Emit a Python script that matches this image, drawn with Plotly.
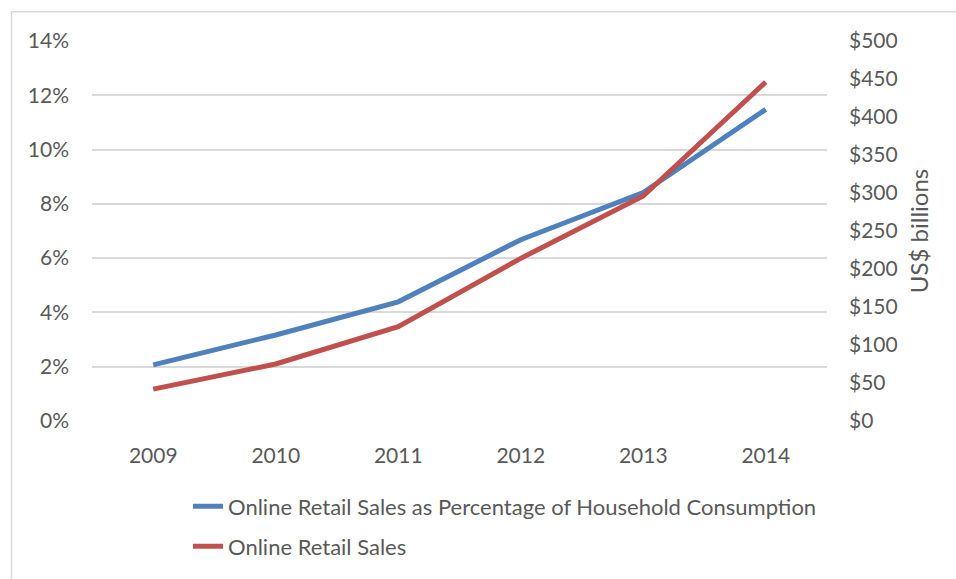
import plotly.graph_objects as go

years = ["2009", "2010", "2011", "2012", "2013", "2014"]
share_pct = [2.07, 3.17, 4.39, 6.68, 8.42, 11.48]      # % of household consumption
sales_bn = [42, 75, 124, 214, 296, 446]                 # US$ billions

BLUE = "#4F81BD"
RED = "#C0504D"
TEXT = "#595959"
GRID = "#D9D9D9"
FONT = "Lato"
FS = 21

fig = go.Figure()
fig.add_trace(go.Scatter(
    x=years, y=[v / 100 for v in share_pct], mode="lines",
    name="Online Retail Sales as Percentage of Household Consumption",
    line=dict(color=BLUE, width=5), legend="legend", yaxis="y",
    showlegend=True,
))
fig.add_trace(go.Scatter(
    x=years, y=sales_bn, mode="lines",
    name="Online Retail Sales",
    line=dict(color=RED, width=5), legend="legend2", yaxis="y2",
    showlegend=True,
))

legend_common = dict(
    font=dict(family=FONT, size=22, color=TEXT),
    bgcolor="rgba(0,0,0,0)", borderwidth=0,
    xanchor="left", yanchor="middle", itemwidth=30,
)

fig.update_layout(
    width=956, height=579,
    showlegend=True,
    margin=dict(l=92, r=129, t=41, b=156),
    paper_bgcolor="white", plot_bgcolor="white",
    font=dict(family=FONT, size=FS, color=TEXT),
    xaxis=dict(
        type="category", range=[-0.5, 5.5],
        showgrid=False, showline=False, zeroline=False,
        ticks="", ticklabelstandoff=20,
        tickfont=dict(family=FONT, size=FS, color=TEXT),
    ),
    yaxis=dict(
        range=[0, 0.14], dtick=0.02, tickformat=".0%",
        showgrid=True, gridcolor=GRID, gridwidth=1.5,
        zeroline=False, showline=False, ticks="", ticklabelstandoff=22,
        tickfont=dict(family=FONT, size=FS, color=TEXT),
    ),
    yaxis2=dict(
        range=[0, 500], dtick=50, tickprefix="$", overlaying="y", side="right",
        showgrid=False, zeroline=False, showline=False, ticks="",
        ticklabelstandoff=21,
        tickfont=dict(family=FONT, size=FS, color=TEXT),
        title=dict(text="US$ billions", standoff=14,
                   font=dict(family=FONT, size=24, color=TEXT)),
    ),
    legend=dict(x=(188 - 92) / 735, y=-(509 - 423) / 382, **legend_common),
    legend2=dict(x=(188 - 92) / 735, y=-(549 - 423) / 382, **legend_common),
    shapes=[dict(
        type="rect", xref="paper", yref="paper",
        x0=-(92 - 11.5) / 735, x1=1.3, y0=-0.5, y1=1 + (41 - 11.5) / 382,
        line=dict(color=GRID, width=1.5), fillcolor="rgba(0,0,0,0)", layer="below",
    )],
)

fig.write_html("out.html")
